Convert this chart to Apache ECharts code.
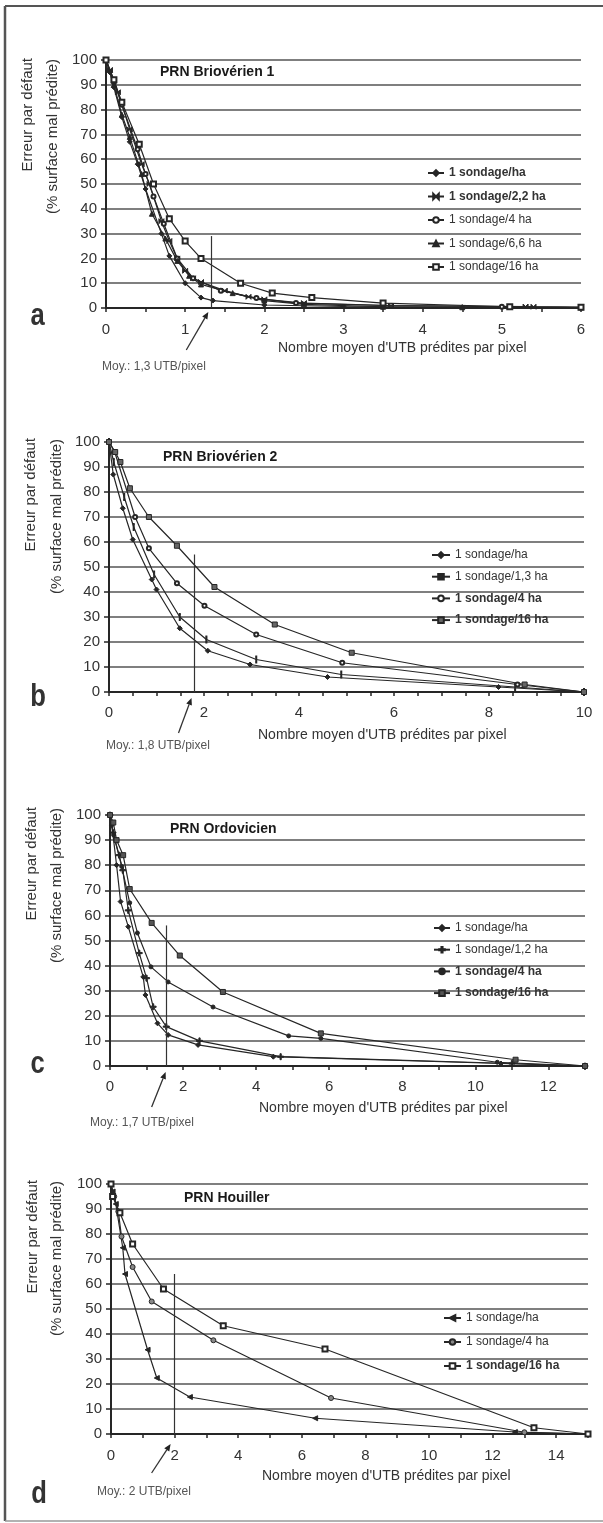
<!DOCTYPE html>
<html>
<head>
<meta charset="utf-8">
<script src="https://cdn.jsdelivr.net/npm/echarts@6/dist/echarts.min.js"></script>
<style>
  html, body { margin: 0; padding: 0; background: #fff; }
  #chart { width: 603px; height: 1523px; }
</style>
</head>
<body>
<div id="chart"></div>
<script>
// x = nombre moyen d'UTB prédites par pixel, y = erreur par défaut (%)
const panelTitles = ["PRN Briovérien 1", "PRN Briovérien 2", "PRN Ordovicien", "PRN Houiller"];
const panelLetters = ["a", "b", "c", "d"];
const xMax = [6, 10, 13, 15];
const xStep = [1, 2, 2, 2];
const xMinorSplit = [2, 4, 2, 2];
const moyX = [1.33, 1.8, 1.55, 2];
const moyTop = [29, 55, 56, 64];
const moyLabels = ["Moy.: 1,3 UTB/pixel", "Moy.: 1,8 UTB/pixel", "Moy.: 1,7 UTB/pixel", "Moy.: 2 UTB/pixel"];

// a - Briovérien 1
const a_ha = [[0,100],[0.05,95],[0.1,89],[0.2,77],[0.3,67],[0.4,58],[0.5,48],[0.7,30],[0.8,21],[1.0,10],[1.2,4.2],[1.35,3],[2.0,1.2],[3.0,0.6],[4.5,0.3],[6,0.2]];
const a_22 = [[0,100],[0.05,96],[0.15,87],[0.3,72],[0.45,58],[0.55,50],[0.7,35],[0.8,27],[0.9,20],[1.0,15],[1.1,12],[1.2,10.5],[1.5,7],[1.8,4.5],[2.0,3.5],[2.5,2],[3.6,1],[5.3,0.6],[5.4,0.5],[6,0.3]];
const a_4 = [[0,100],[0.1,91],[0.2,82],[0.4,64],[0.5,54],[0.6,45],[0.73,34],[0.9,20],[1.1,12],[1.45,7],[1.9,4],[2.4,2],[3.5,1],[5.0,0.5],[6,0.3]];
const a_66 = [[0,100],[0.1,90],[0.2,78],[0.3,69],[0.45,54],[0.58,38],[0.75,28],[0.9,19],[1.05,13],[1.2,9.5],[1.6,6],[2.0,3],[2.5,1.5],[3.5,0.5],[4.5,0.3],[6,0.2]];
const a_16 = [[0,100],[0.1,92],[0.2,83],[0.42,66],[0.6,50],[0.8,36],[1.0,27],[1.2,20],[1.7,10],[2.1,6],[2.6,4.2],[3.5,2],[5.1,0.5],[6,0.3]];

// b - Briovérien 2
const b_ha = [[0,100],[0.09,87],[0.29,73.5],[0.5,61],[0.9,45],[1.0,41],[1.49,25.5],[2.08,16.5],[2.97,11],[4.6,6],[8.2,2],[10,0]];
const b_13 = [[0,100],[0.1,92],[0.32,78],[0.52,66],[0.95,47],[1.49,30],[2.05,21],[3.1,13],[4.89,7],[8.55,2],[10,0]];
const b_4 = [[0,100],[0.12,96],[0.55,70],[0.84,57.5],[1.43,43.5],[2.01,34.5],[3.1,23],[4.91,11.7],[8.6,3],[10,0]];
const b_16 = [[0,100],[0.13,96],[0.24,92],[0.44,81.5],[0.84,70],[1.43,58.5],[2.22,42],[3.49,27],[5.11,15.7],[8.75,3],[10,0]];

// c - Ordovicien
const c_ha = [[0,100],[0.05,96],[0.18,80],[0.29,65.5],[0.5,55.5],[0.91,35.5],[0.97,28.3],[1.3,17],[1.59,12.4],[2.41,8.4],[4.47,3.7],[10.7,1],[13,0]];
const c_12 = [[0,100],[0.08,93],[0.25,84],[0.35,78],[0.5,62],[0.8,45],[1.0,35],[1.18,23.6],[1.54,15.7],[2.45,10],[4.67,3.7],[11,1],[13,0]];
const c_4 = [[0,100],[0.1,92],[0.32,79.5],[0.54,65],[0.75,53],[1.12,39.5],[1.59,33.5],[2.82,23.5],[4.89,12],[5.77,11],[10.6,1.5],[13,0]];
const c_16 = [[0,100],[0.09,97],[0.18,90],[0.36,84],[0.54,70.5],[1.14,57],[1.91,44],[3.09,29.5],[5.77,13],[11.1,2.5],[13,0]];

// d - Houiller
const d_ha = [[0,100],[0.05,97],[0.15,92],[0.37,74.5],[0.44,64],[1.15,33.7],[1.44,22.4],[2.48,14.8],[6.42,6.3],[12.7,0.8],[15,0]];
const d_4 = [[0,100],[0.1,95],[0.23,89],[0.33,79],[0.68,66.8],[1.28,53],[3.22,37.5],[6.92,14.4],[13.0,0.7],[15,0]];
const d_16 = [[0,100],[0.05,95],[0.28,88.5],[0.68,76],[1.65,58],[3.53,43.3],[6.73,34],[13.3,2.5],[15,0]];

const FONT = "'Liberation Sans', Arial, sans-serif";
const INK = "#262626";
const BOWTIE = "path://M0,0L5,5L0,10ZM10,0L5,5L10,10Z";
const PLUS = "path://M4,0H6V4H10V6H6V10H4V6H0V4H4Z";

// series of each panel: name, data, marker
const panelSeries = [
  [
    { name: "1 sondage/ha", data: a_ha, symbol: "diamond", size: 5, bold: true },
    { name: "1 sondage/2,2 ha", data: a_22, symbol: BOWTIE, size: 5, bold: true },
    { name: "1 sondage/4 ha", data: a_4, symbol: "emptyCircle", size: 4 },
    { name: "1 sondage/6,6 ha", data: a_66, symbol: "triangle", size: 5 },
    { name: "1 sondage/16 ha", data: a_16, symbol: "emptyRect", size: 5 }
  ],
  [
    { name: "1 sondage/ha", data: b_ha, symbol: "diamond", size: 5 },
    { name: "1 sondage/1,3 ha", data: b_13, symbol: "rect", size: [1.5, 6] },
    { name: "1 sondage/4 ha", data: b_4, symbol: "emptyCircle", size: 4, bold: true },
    { name: "1 sondage/16 ha", data: b_16, symbol: "rect", size: 5, fill: "#666", bold: true }
  ],
  [
    { name: "1 sondage/ha", data: c_ha, symbol: "diamond", size: 5 },
    { name: "1 sondage/1,2 ha", data: c_12, symbol: PLUS, size: 6 },
    { name: "1 sondage/4 ha", data: c_4, symbol: "circle", size: 4, bold: true },
    { name: "1 sondage/16 ha", data: c_16, symbol: "rect", size: 5, fill: "#555", bold: true }
  ],
  [
    { name: "1 sondage/ha", data: d_ha, symbol: "triangle", size: 5, rotate: 90 },
    { name: "1 sondage/4 ha", data: d_4, symbol: "circle", size: 5, fill: "#888" },
    { name: "1 sondage/16 ha", data: d_16, symbol: "emptyRect", size: 5, bold: true }
  ]
];

// layout (pixels)
const gridBoxes = [[106, 60, 475, 248], [109, 442, 475, 250], [110, 815, 475, 251], [111, 1184, 477, 250]];
const xLabelMargin = [14, 13, 13, 14];
const legendBoxes = [[427, 167, 16, 11.5], [431, 549, 18, 9.7], [433, 922, 16, 9.7], [443, 1312, 17, 12]];
const titlePos = [[160, 64], [163, 449], [170, 821], [184, 1190]];
const yTitlePos = [[[28, 58], [53, 59]], [[31, 438], [57, 439]], [[32, 807], [57, 808]], [[33, 1180], [57, 1181]]];
const xTitlePos = [[278, 348], [258, 735], [259, 1108], [262, 1476]];
const moyLabelPos = [[102, 367], [106, 746], [90, 1123], [97, 1492]];
const letterPos = [[37.5, 316], [38, 697], [37.5, 1064], [39, 1494]];
const arrowTip = [[-3, 4], [-3, 6], [-1, 6], [-4, 10]];
const arrowTail = [[-22, 38], [-13, 35], [-14, 35], [-19, 29]];

const chart = echarts.init(document.getElementById("chart"), null, { renderer: "canvas" });

const grid = [], xAxis = [], yAxis = [], series = [], legend = [], title = [];

panelSeries.forEach((list, i) => {
  const b = gridBoxes[i];
  grid.push({ left: b[0], top: b[1], width: b[2], height: b[3], containLabel: false, outerBoundsMode: "none" });
  xAxis.push({
    type: "value", gridIndex: i, min: 0, max: xMax[i], interval: xStep[i],
    axisLine: { show: true, onZero: false, lineStyle: { color: INK, width: 2 } },
    axisTick: { show: true, inside: false, length: 4, lineStyle: { color: INK, width: 1.5 } },
    minorTick: { show: true, splitNumber: xMinorSplit[i], length: 4, lineStyle: { color: INK, width: 1.5 } },
    axisLabel: { fontSize: 15, color: "#333", margin: xLabelMargin[i], fontFamily: FONT, showMaxLabel: i < 2 },
    splitLine: { show: false }
  });
  yAxis.push({
    type: "value", gridIndex: i, min: 0, max: 100, interval: 10,
    axisLine: { show: true, lineStyle: { color: INK, width: 2 } },
    axisTick: { show: true, inside: false, length: 5, lineStyle: { color: INK, width: 1.5 } },
    axisLabel: { fontSize: 15, color: "#333", margin: 9, fontFamily: FONT },
    splitLine: { show: true, lineStyle: { color: "#555", width: 1.6 } }
  });
  title.push({
    text: panelTitles[i], left: titlePos[i][0], top: titlePos[i][1], padding: 0,
    textStyle: { fontSize: 14, fontWeight: "bold", color: "#1a1a1a", fontFamily: FONT, lineHeight: 16 }
  });

  const names = [];
  list.forEach((s, k) => {
    const name = s.name + " ".repeat(i); // names stay unique between panels
    names.push({ name: name, textStyle: { fontWeight: s.bold ? "bold" : "normal" } });
    const ser = {
      type: "line", name: name, xAxisIndex: i, yAxisIndex: i, data: s.data,
      symbol: s.symbol, symbolSize: s.size, symbolRotate: s.rotate || 0, showAllSymbol: true,
      lineStyle: { color: INK, width: 1.2 },
      itemStyle: { color: s.fill || INK, borderColor: INK, borderWidth: 1 },
      emphasis: { disabled: true }, animation: false, z: 3
    };
    if (k === 0) {
      ser.markLine = {
        silent: true, symbol: ["none", "none"], label: { show: false }, animation: false,
        lineStyle: { color: "#333", width: 1.2, type: "solid" },
        emphasis: { disabled: true },
        data: [[{ coord: [moyX[i], 0] }, { coord: [moyX[i], moyTop[i]] }]]
      };
    }
    series.push(ser);
  });

  const lb = legendBoxes[i];
  legend.push({
    orient: "vertical", left: lb[0], top: lb[1], itemWidth: lb[2], itemHeight: 7, itemGap: lb[3],
    padding: 0, selectedMode: false, data: names,
    formatter: n => n.trim(),
    textStyle: { fontSize: 12, color: "#333", lineHeight: 12, fontFamily: FONT }
  });
});

chart.setOption({
  animation: false,
  backgroundColor: "#fff",
  grid, xAxis, yAxis, series, legend, title,
  tooltip: { show: false }
});

// annotations: frame, axis titles, averages, letters
const graphic = [
  { type: "line", shape: { x1: 5, y1: 6, x2: 5, y2: 1521 }, style: { stroke: "#555", lineWidth: 2.5 } },
  { type: "line", shape: { x1: 5, y1: 6, x2: 603, y2: 6 }, style: { stroke: "#555", lineWidth: 2 } },
  { type: "line", shape: { x1: 5, y1: 1521, x2: 603, y2: 1521 }, style: { stroke: "#999", lineWidth: 1.5 } }
];

panelLetters.forEach((letter, i) => {
  const yt = yTitlePos[i];
  graphic.push({
    type: "text", x: yt[0][0], y: yt[0][1], rotation: Math.PI / 2, silent: true,
    style: { text: "Erreur par défaut", fontSize: 15, fontFamily: FONT, fill: "#333", align: "right", verticalAlign: "middle" }
  });
  graphic.push({
    type: "text", x: yt[1][0], y: yt[1][1], rotation: Math.PI / 2, silent: true,
    style: { text: "(% surface mal prédite)", fontSize: 15, fontFamily: FONT, fill: "#333", align: "right", verticalAlign: "middle" }
  });
  graphic.push({
    type: "text", x: xTitlePos[i][0], y: xTitlePos[i][1], silent: true,
    style: { text: "Nombre moyen d'UTB prédites par pixel", fontSize: 14, fontFamily: FONT, fill: "#333", align: "left", verticalAlign: "middle" }
  });
  graphic.push({
    type: "text", x: moyLabelPos[i][0], y: moyLabelPos[i][1], silent: true,
    style: { text: moyLabels[i], fontSize: 12, fontFamily: FONT, fill: "#555", align: "left", verticalAlign: "middle" }
  });
  graphic.push({
    type: "text", x: letterPos[i][0], y: letterPos[i][1], scaleX: 0.8, silent: true,
    style: { text: letter, fontSize: 32, fontWeight: "bold", fontFamily: FONT, fill: "#333", align: "center", verticalAlign: "middle" }
  });

  const p = chart.convertToPixel({ xAxisIndex: i, yAxisIndex: i }, [moyX[i], 0]);
  const tip = [p[0] + arrowTip[i][0], p[1] + arrowTip[i][1]];
  const tail = [tip[0] + arrowTail[i][0], tip[1] + arrowTail[i][1]];
  const len = Math.hypot(tip[0] - tail[0], tip[1] - tail[1]);
  const ux = (tip[0] - tail[0]) / len, uy = (tip[1] - tail[1]) / len;
  const hx = tip[0] - ux * 7, hy = tip[1] - uy * 7;
  graphic.push({
    type: "line", silent: true,
    shape: { x1: tail[0], y1: tail[1], x2: hx, y2: hy },
    style: { stroke: "#333", lineWidth: 1.3 }
  });
  graphic.push({
    type: "polygon", silent: true,
    shape: { points: [tip, [hx - uy * 3, hy + ux * 3], [hx + uy * 3, hy - ux * 3]] },
    style: { fill: "#222" }
  });
});

chart.setOption({ graphic: graphic });
</script>
</body>
</html>
